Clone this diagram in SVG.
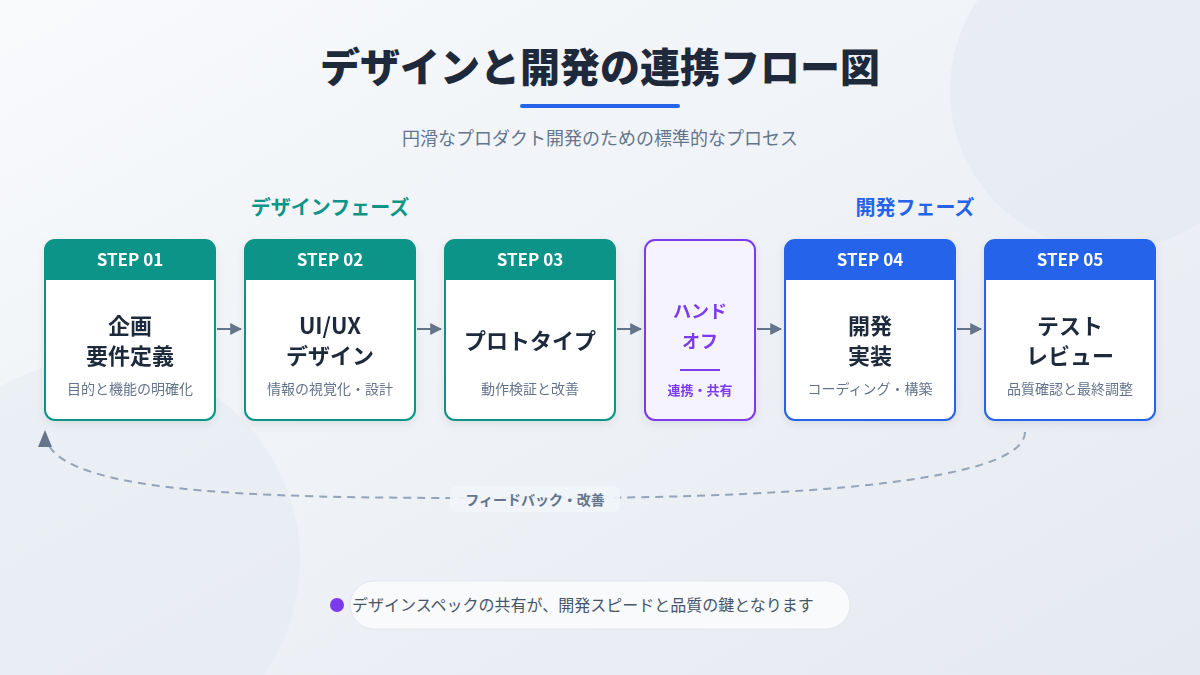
<svg xmlns="http://www.w3.org/2000/svg" width="1200" height="675" viewBox="0 0 1200 675">
<style>
text{font-family:"Noto Sans CJK JP","Noto Sans",sans-serif}
.hd{fill:#fff;font-size:17px;font-weight:700;text-anchor:middle}
.tt{fill:#1e293b;font-size:22px;font-weight:700;text-anchor:middle}
.sb{fill:#64748b;font-size:14px;text-anchor:middle}
.conn{stroke:#64748b;stroke-width:2;fill:none}
</style>
<defs>
<linearGradient id="bg" x1="0" y1="0" x2="1" y2="1"><stop offset="0" stop-color="#f8fafc"/><stop offset="1" stop-color="#e5e9f0"/></linearGradient>
<marker id="ah" viewBox="0 0 10 10" refX="9" refY="5" markerWidth="6" markerHeight="6" orient="auto"><path d="M0,0L10,5L0,10z" fill="#64748b"/></marker>
<filter id="sh" x="-20%" y="-20%" width="140%" height="140%"><feDropShadow dx="0" dy="3" stdDeviation="4" flood-color="#0f172a" flood-opacity="0.08"/></filter>
</defs>
<rect width="1200" height="675" fill="url(#bg)"/>
<circle cx="1110" cy="90" r="160" fill="#e2e8f0" opacity="0.5"/>
<circle cx="100" cy="560" r="200" fill="#e2e8f0" opacity="0.4"/>
<text x="600" y="82" font-size="40" font-weight="800" fill="#1e293b" text-anchor="middle">デザインと開発の連携フロー図</text>
<rect x="520" y="104" width="160" height="4" rx="2" fill="#2563eb"/>
<text x="600" y="145" font-size="18" fill="#64748b" text-anchor="middle">円滑なプロダクト開発のための標準的なプロセス</text>
<text x="330" y="215" font-size="20" font-weight="700" fill="#0d9488" text-anchor="middle">デザインフェーズ</text>
<text x="915" y="215" font-size="20" font-weight="700" fill="#2563eb" text-anchor="middle">開発フェーズ</text>
<g id="connectors">
<line class="conn" x1="217" y1="329" x2="241" y2="329" marker-end="url(#ah)"/>
<line class="conn" x1="417" y1="329" x2="441" y2="329" marker-end="url(#ah)"/>
<line class="conn" x1="617" y1="329" x2="641" y2="329" stroke-width="3" marker-end="url(#ah)"/>
<line class="conn" x1="757" y1="329" x2="781" y2="329" marker-end="url(#ah)"/>
<line class="conn" x1="957" y1="329" x2="981" y2="329" marker-end="url(#ah)"/>
<path d="M1025,432 C1025,500 600,498 535,498 C300,498 45,500 45,432" stroke="#94a3b8" stroke-width="2" fill="none" stroke-dasharray="8,6"/>
<path d="M45,430 L38,447 L52,447 z" fill="#64748b"/>
<rect x="450" y="486" width="170" height="26" rx="6" fill="#f1f5f9" opacity="0.9"/>
<text x="535" y="505" font-size="14" font-weight="700" fill="#64748b" text-anchor="middle">フィードバック・改善</text>
</g>
<g id="step1" filter="url(#sh)">
<rect x="45" y="240" width="170" height="180" rx="10" fill="#fff" stroke="#0d9488" stroke-width="2"/>
<path d="M45,280 V250 a10,10 0 0 1 10,-10 H205 a10,10 0 0 1 10,10 V280 z" fill="#0d9488"/>
<text class="hd" x="130" y="266">STEP 01</text>
<text class="tt" x="130" y="334">企画</text><text class="tt" x="130" y="364">要件定義</text>
<text class="sb" x="130" y="394">目的と機能の明確化</text>
</g>
<g id="step2" filter="url(#sh)">
<rect x="245" y="240" width="170" height="180" rx="10" fill="#fff" stroke="#0d9488" stroke-width="2"/>
<path d="M245,280 V250 a10,10 0 0 1 10,-10 H405 a10,10 0 0 1 10,10 V280 z" fill="#0d9488"/>
<text class="hd" x="330" y="266">STEP 02</text>
<text class="tt" x="330" y="334">UI/UX</text><text class="tt" x="330" y="364">デザイン</text>
<text class="sb" x="330" y="394">情報の視覚化・設計</text>
</g>
<g id="step3" filter="url(#sh)">
<rect x="445" y="240" width="170" height="180" rx="10" fill="#fff" stroke="#0d9488" stroke-width="2"/>
<path d="M445,280 V250 a10,10 0 0 1 10,-10 H605 a10,10 0 0 1 10,10 V280 z" fill="#0d9488"/>
<text class="hd" x="530" y="266">STEP 03</text>
<text class="tt" x="530" y="349">プロトタイプ</text>
<text class="sb" x="530" y="394">動作検証と改善</text>
</g>
<g id="handoff" filter="url(#sh)">
<rect x="645" y="240" width="110" height="180" rx="10" fill="#f5f3ff" stroke="#7c3aed" stroke-width="2"/>
<text x="700" y="318" font-size="18" font-weight="700" fill="#7c3aed" text-anchor="middle">ハンド</text>
<text x="700" y="348" font-size="18" font-weight="700" fill="#7c3aed" text-anchor="middle">オフ</text>
<line x1="680" y1="370" x2="720" y2="370" stroke="#7c3aed" stroke-width="2"/>
<text x="700" y="395" font-size="13" font-weight="700" fill="#7c3aed" text-anchor="middle">連携・共有</text>
</g>
<g id="step4" filter="url(#sh)">
<rect x="785" y="240" width="170" height="180" rx="10" fill="#fff" stroke="#2563eb" stroke-width="2"/>
<path d="M785,280 V250 a10,10 0 0 1 10,-10 H945 a10,10 0 0 1 10,10 V280 z" fill="#2563eb"/>
<text class="hd" x="870" y="266">STEP 04</text>
<text class="tt" x="870" y="334">開発</text><text class="tt" x="870" y="364">実装</text>
<text class="sb" x="870" y="394">コーディング・構築</text>
</g>
<g id="step5" filter="url(#sh)">
<rect x="985" y="240" width="170" height="180" rx="10" fill="#fff" stroke="#2563eb" stroke-width="2"/>
<path d="M985,280 V250 a10,10 0 0 1 10,-10 H1145 a10,10 0 0 1 10,10 V280 z" fill="#2563eb"/>
<text class="hd" x="1070" y="266">STEP 05</text>
<text class="tt" x="1070" y="334">テスト</text><text class="tt" x="1070" y="364">レビュー</text>
<text class="sb" x="1070" y="394">品質確認と最終調整</text>
</g>
<g id="note">
<rect x="350" y="581" width="500" height="48" rx="24" fill="#f8fafc" stroke="#e2e8f0"/>
<circle cx="337" cy="605" r="7" fill="#7c3aed"/>
<text x="352" y="611" font-size="16" fill="#475569">デザインスペックの共有が、開発スピードと品質の鍵となります</text>
</g>
</svg>
